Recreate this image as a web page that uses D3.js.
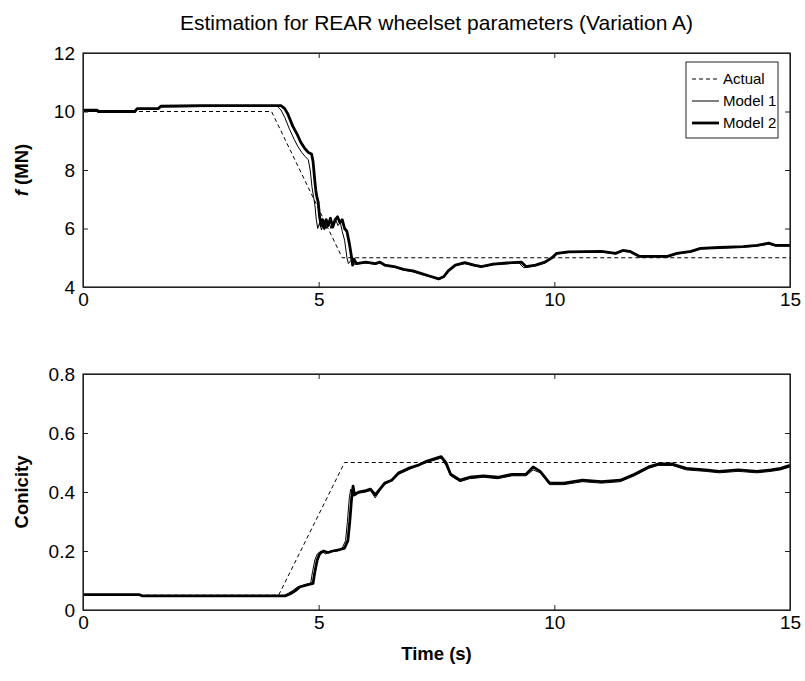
<!DOCTYPE html>
<html>
<head>
<meta charset="utf-8">
<script src="https://d3js.org/d3.v7.min.js"></script>
<style>
body { margin: 0; background: #fff; }
text { font-family: "Liberation Sans", Arial, sans-serif; fill: #000; }
</style>
</head>
<body>
<div id="chart"></div>
<script>
var width = 805, height = 681,
    plotLeft = 83, plotRight = 790,
    topPanel = {top: 53, bottom: 287},
    botPanel = {top: 374, bottom: 610},
    tickFont = 19,
    titleFont = 21,
    labelFont = 18.5,
    legendFont = 15,
    tickLen = 5;

// ---- data ----
var title = "Estimation for REAR wheelset parameters (Variation A)";
var xTicks = [0, 5, 10, 15];
var fTicks = [4, 6, 8, 10, 12];
var conTicks = [0, 0.2, 0.4, 0.6, 0.8];
var legendLabels = ["Actual", "Model 1", "Model 2"];

// [time s, f MN]
var fActual = [[0, 10], [4.0, 10], [5.5, 5], [15, 5]];
var fModel1 = [[0, 10.0], [1.1, 10.0], [1.15, 10.08], [1.6, 10.1], [1.65, 10.16], [4.12, 10.18], [4.2, 10.05], [4.28, 9.8],
    [4.38, 9.4], [4.48, 9.05], [4.56, 8.8], [4.64, 8.6], [4.72, 8.45], [4.78, 8.35], [4.82, 8.0], [4.86, 7.4], [4.89, 7.1],
    [4.92, 6.8], [4.95, 6.3], [4.98, 6.0], [5.02, 6.2], [5.06, 5.95], [5.11, 6.2], [5.16, 6.0], [5.21, 6.25], [5.26, 6.0],
    [5.31, 6.2], [5.36, 6.3], [5.41, 6.1], [5.46, 6.2], [5.5, 5.9], [5.55, 5.6], [5.6, 5.0], [5.63, 4.8], [5.68, 4.9],
    [5.76, 4.78], [6.0, 4.82], [6.2, 4.78], [6.3, 4.82], [6.4, 4.73], [6.6, 4.68], [6.8, 4.58], [7.0, 4.52], [7.2, 4.43],
    [7.4, 4.33], [7.55, 4.25], [7.62, 4.3], [7.72, 4.5], [7.88, 4.72], [8.1, 4.8], [8.3, 4.72], [8.45, 4.68], [8.7, 4.76],
    [9.0, 4.8], [9.25, 4.82], [9.35, 4.66], [9.6, 4.72], [9.8, 4.82], [9.92, 4.95], [10.02, 5.12], [10.3, 5.18], [11.0, 5.2],
    [11.3, 5.13], [11.45, 5.22], [11.6, 5.2], [11.8, 5.03], [12.4, 5.03], [12.6, 5.13], [12.9, 5.2], [13.1, 5.3], [13.5, 5.33],
    [14.0, 5.36], [14.3, 5.4], [14.55, 5.47], [14.7, 5.4], [15, 5.4]];
var fModel2 = [[0, 10.05], [0.3, 10.05], [0.32, 10.0], [1.1, 10.0], [1.15, 10.1], [1.6, 10.1], [1.65, 10.18], [2.5, 10.2],
    [4.2, 10.2], [4.28, 10.1], [4.35, 9.9], [4.45, 9.5], [4.55, 9.2], [4.62, 8.95], [4.7, 8.75], [4.78, 8.6], [4.85, 8.55],
    [4.88, 8.3], [4.92, 7.6], [4.94, 7.3], [4.96, 7.1], [4.99, 6.9], [5.02, 6.4], [5.05, 6.1], [5.08, 6.3], [5.12, 6.0],
    [5.16, 6.3], [5.2, 6.1], [5.25, 6.35], [5.3, 6.05], [5.35, 6.3], [5.4, 6.4], [5.45, 6.2], [5.5, 6.3], [5.55, 6.0],
    [5.6, 5.9], [5.65, 5.5], [5.7, 5.0], [5.72, 4.75], [5.75, 4.95], [5.8, 4.8], [6.0, 4.85], [6.2, 4.8], [6.3, 4.85],
    [6.4, 4.75], [6.6, 4.7], [6.8, 4.6], [7.0, 4.55], [7.2, 4.45], [7.4, 4.35], [7.55, 4.28], [7.65, 4.35], [7.75, 4.55],
    [7.9, 4.75], [8.1, 4.83], [8.3, 4.75], [8.45, 4.7], [8.7, 4.78], [9.0, 4.82], [9.3, 4.85], [9.4, 4.7], [9.6, 4.75],
    [9.8, 4.85], [9.95, 5.0], [10.05, 5.15], [10.3, 5.2], [11.0, 5.22], [11.3, 5.15], [11.45, 5.25], [11.6, 5.22],
    [11.8, 5.05], [12.4, 5.05], [12.6, 5.15], [12.9, 5.22], [13.1, 5.32], [13.5, 5.35], [14.0, 5.38], [14.3, 5.42],
    [14.55, 5.5], [14.7, 5.42], [15, 5.42]];

// [time s, conicity]
var conActual = [[0, 0.05], [4.15, 0.05], [5.55, 0.5], [15, 0.5]];
var conModel1 = [[0, 0.052], [1.2, 0.052], [1.25, 0.048], [4.25, 0.048], [4.35, 0.056], [4.45, 0.066], [4.55, 0.078],
    [4.7, 0.085], [4.83, 0.09], [4.87, 0.13], [4.92, 0.17], [4.97, 0.19], [5.05, 0.2], [5.15, 0.19], [5.25, 0.2],
    [5.4, 0.2], [5.5, 0.21], [5.57, 0.235], [5.61, 0.3], [5.65, 0.38], [5.68, 0.41], [5.72, 0.385], [5.82, 0.395],
    [6.0, 0.4], [6.1, 0.405], [6.2, 0.38], [6.3, 0.405], [6.4, 0.425], [6.55, 0.44], [6.7, 0.46], [6.9, 0.475],
    [7.1, 0.49], [7.3, 0.5], [7.5, 0.51], [7.6, 0.515], [7.7, 0.49], [7.8, 0.455], [8.0, 0.435], [8.2, 0.445],
    [8.5, 0.45], [8.8, 0.445], [9.1, 0.455], [9.4, 0.455], [9.55, 0.475], [9.7, 0.465], [9.9, 0.425], [10.2, 0.425],
    [10.6, 0.435], [11.0, 0.43], [11.4, 0.435], [11.7, 0.455], [12.0, 0.48], [12.2, 0.49], [12.5, 0.49], [12.8, 0.475],
    [13.2, 0.47], [13.5, 0.465], [13.9, 0.47], [14.3, 0.465], [14.6, 0.47], [14.8, 0.475], [15, 0.485]];
var conModel2 = [[0, 0.052], [1.2, 0.052], [1.25, 0.048], [4.3, 0.048], [4.4, 0.055], [4.5, 0.065], [4.6, 0.078],
    [4.75, 0.085], [4.88, 0.09], [4.92, 0.13], [4.97, 0.17], [5.02, 0.19], [5.1, 0.2], [5.2, 0.195], [5.3, 0.2],
    [5.45, 0.205], [5.55, 0.21], [5.62, 0.235], [5.66, 0.3], [5.7, 0.38], [5.73, 0.42], [5.76, 0.39], [5.85, 0.4],
    [6.0, 0.405], [6.1, 0.41], [6.2, 0.39], [6.3, 0.41], [6.4, 0.43], [6.55, 0.44], [6.7, 0.465], [6.9, 0.48],
    [7.1, 0.49], [7.3, 0.505], [7.5, 0.515], [7.6, 0.52], [7.7, 0.5], [7.8, 0.46], [8.0, 0.44], [8.2, 0.45],
    [8.5, 0.455], [8.8, 0.45], [9.1, 0.46], [9.4, 0.46], [9.55, 0.485], [9.7, 0.47], [9.9, 0.43], [10.2, 0.43],
    [10.6, 0.44], [11.0, 0.435], [11.4, 0.44], [11.7, 0.46], [12.0, 0.485], [12.2, 0.495], [12.5, 0.495], [12.8, 0.48],
    [13.2, 0.475], [13.5, 0.47], [13.9, 0.475], [14.3, 0.47], [14.6, 0.475], [14.8, 0.48], [15, 0.49]];

var svg = d3.select("#chart").append("svg")
    .attr("width", width)
    .attr("height", height);

var x = d3.scaleLinear().domain([0, 15]).range([plotLeft, plotRight]);

function drawPanel(panel, yDomain, yTicks, series, yLabel) {
    var y = d3.scaleLinear().domain(yDomain).range([panel.bottom, panel.top]);
    var g = svg.append("g");

    // clip so lines stay inside the box
    var clipId = "clip" + panel.top;
    svg.append("clipPath").attr("id", clipId)
        .append("rect")
        .attr("x", plotLeft).attr("y", panel.top)
        .attr("width", plotRight - plotLeft).attr("height", panel.bottom - panel.top);

    var line = d3.line().x(d => x(d[0])).y(d => y(d[1]));
    var lines = g.append("g").attr("clip-path", "url(#" + clipId + ")");

    lines.append("path").datum(series.actual)
        .attr("d", line).attr("fill", "none")
        .attr("stroke", "#000").attr("stroke-width", 1)
        .attr("stroke-dasharray", "4,3");
    lines.append("path").datum(series.m2)
        .attr("d", line).attr("fill", "none")
        .attr("stroke", "#000").attr("stroke-width", 2.8)
        .attr("stroke-linejoin", "round");
    lines.append("path").datum(series.m1)
        .attr("d", line).attr("fill", "none")
        .attr("stroke", "#000").attr("stroke-width", 1);

    // axes, MATLAB style ticks pointing in on all four sides
    g.append("g").attr("transform", "translate(0," + panel.bottom + ")")
        .call(d3.axisBottom(x).tickValues(xTicks).tickSizeInner(-tickLen).tickSizeOuter(0).tickPadding(6));
    g.append("g").attr("transform", "translate(0," + panel.top + ")")
        .call(d3.axisTop(x).tickValues(xTicks).tickSizeInner(-tickLen).tickSizeOuter(0).tickFormat(""));
    g.append("g").attr("transform", "translate(" + plotLeft + ",0)")
        .call(d3.axisLeft(y).tickValues(yTicks).tickSizeInner(-tickLen).tickSizeOuter(0).tickPadding(8)
            .tickFormat(d => String(d)));
    g.append("g").attr("transform", "translate(" + plotRight + ",0)")
        .call(d3.axisRight(y).tickValues(yTicks).tickSizeInner(-tickLen).tickSizeOuter(0).tickFormat(""));

    g.selectAll(".tick text").style("font-size", tickFont + "px").attr("fill", "#000");
    g.selectAll(".domain, .tick line").attr("stroke", "#222");

    g.append("rect")
        .attr("x", plotLeft).attr("y", panel.top)
        .attr("width", plotRight - plotLeft).attr("height", panel.bottom - panel.top)
        .attr("fill", "none").attr("stroke", "#222").attr("stroke-width", 1.2);

    var lab = g.append("text")
        .attr("transform", "translate(28," + (panel.top + panel.bottom) / 2 + ") rotate(-90)")
        .attr("text-anchor", "middle")
        .style("font-size", labelFont + "px")
        .style("font-weight", "bold");
    yLabel(lab);
    return y;
}

svg.append("text")
    .attr("x", (plotLeft + plotRight) / 2)
    .attr("y", 30)
    .attr("text-anchor", "middle")
    .style("font-size", titleFont + "px")
    .text(title);

drawPanel(topPanel, [4, 12], fTicks, {actual: fActual, m1: fModel1, m2: fModel2}, function (t) {
    t.append("tspan").style("font-style", "italic").text("f");
    t.append("tspan").text(" (MN)");
});

drawPanel(botPanel, [0, 0.8], conTicks, {actual: conActual, m1: conModel1, m2: conModel2}, function (t) {
    t.text("Conicity");
});

svg.append("text")
    .attr("x", (plotLeft + plotRight) / 2)
    .attr("y", 660)
    .attr("text-anchor", "middle")
    .style("font-size", labelFont + "px")
    .style("font-weight", "bold")
    .text("Time (s)");

// legend
var legend = svg.append("g").attr("transform", "translate(686,62)");
legend.append("rect")
    .attr("width", 92).attr("height", 76)
    .attr("fill", "#fff").attr("stroke", "#222").attr("stroke-width", 1);
var legStyles = [
    {w: 1, dash: "4,3"},
    {w: 1, dash: null},
    {w: 2.8, dash: null}
];
legendLabels.forEach(function (name, i) {
    var yy = 17 + i * 22;
    legend.append("line")
        .attr("x1", 6).attr("x2", 33).attr("y1", yy).attr("y2", yy)
        .attr("stroke", "#000").attr("stroke-width", legStyles[i].w)
        .attr("stroke-dasharray", legStyles[i].dash);
    legend.append("text")
        .attr("x", 37).attr("y", yy + 5)
        .style("font-size", legendFont + "px")
        .text(name);
});
</script>
</body>
</html>
